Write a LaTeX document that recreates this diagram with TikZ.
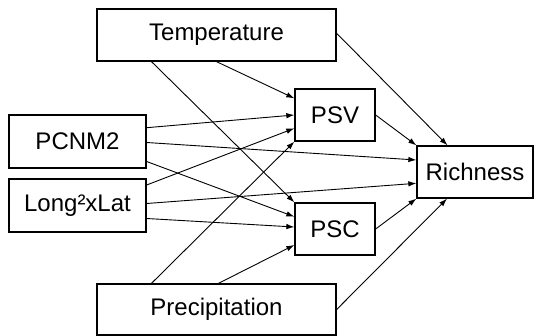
\documentclass[tikz,border=0pt]{standalone}
\usepackage{fontspec}
\setmainfont{Liberation Sans}
\usetikzlibrary{arrows.meta}

\begin{document}
\begin{tikzpicture}[x=1pt, y=-1pt,
    box/.style={draw, line width=1.3pt, inner sep=0pt, font=\fontsize{24}{28}\selectfont},
    arr/.style={-{Latex[length=8pt,width=5.5pt]}, line width=0.9pt}]
          \useasboundingbox (0, 0) rectangle (534, 336);
          \node[box, minimum width=239pt, minimum height=52pt] (temp) at (216.5, 35) {Temperature};
          \node[box, minimum width=137pt, minimum height=53pt] (pcnm) at (77.5, 141.5) {PCNM2};
          \node[box, minimum width=137pt, minimum height=53pt] (long) at (77.5, 205.5) {Long²xLat};
          \node[box, minimum width=80pt, minimum height=52pt] (psv) at (335, 115) {PSV};
          \node[box, minimum width=80pt, minimum height=52pt] (psc) at (335, 229) {PSC};
          \node[box, minimum width=116pt, minimum height=52pt] (rich) at (475, 172) {Richness};
          \node[box, minimum width=239pt, minimum height=51pt] (prec) at (216.5, 309.5) {Precipitation};
          \draw[arr] (temp.south) -- ([yshift=16.7pt]psv.west);
          \draw[arr] ([xshift=-65pt]temp.south) -- (psc.north west);
          \draw[arr] ([yshift=1.7pt]temp.east) -- ([xshift=-27.5pt]rich.north);
          \draw[arr] ([yshift=13.8pt]pcnm.east) -- (psv.west);
          \draw[arr] ([yshift=-1pt]pcnm.east) -- ([yshift=12pt]rich.west);
          \draw[arr] ([yshift=-20pt]pcnm.east) -- ([yshift=12.3pt]psc.west);
          \draw[arr] ([yshift=20.5pt]long.east) -- ([yshift=-13.3pt]psv.west);
          \draw[arr] ([yshift=2pt]long.east) -- ([yshift=-11.3pt]rich.west);
          \draw[arr] ([yshift=-13pt]long.east) -- ([yshift=2pt]psc.west);
          \draw[arr] ([xshift=-65pt]prec.north) -- (psv.south west);
          \draw[arr] ([xshift=2pt]prec.north) -- ([yshift=-16pt]psc.west);
          \draw[arr] (prec.east) -- ([xshift=-28pt]rich.south);
          \draw[arr] (psv.east) -- (rich.north west);
          \draw[arr] (psc.east) -- (rich.south west);
        \end{tikzpicture}
\end{document}
